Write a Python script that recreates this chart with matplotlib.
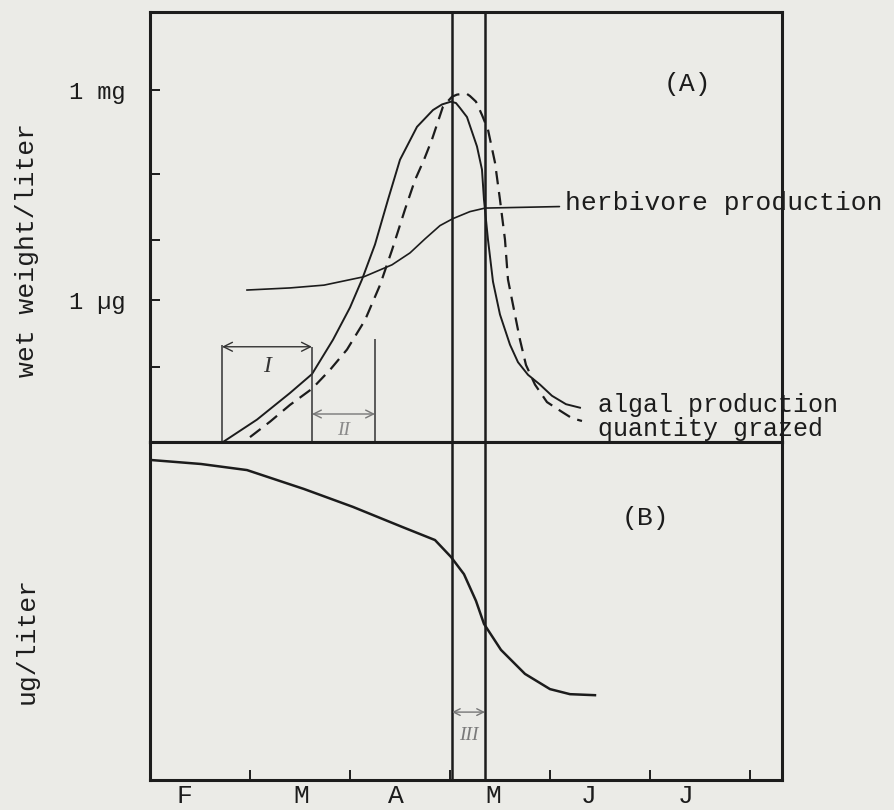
import matplotlib
matplotlib.use("Agg")
import matplotlib.pyplot as plt

# x: months counted from 1 February; top panel y: log10 wet weight (mg/liter)
algal_x = [0.73, 1.07, 1.40, 1.62, 1.83, 2.00, 2.12, 2.25, 2.38, 2.50, 2.67, 2.83, 2.92, 3.01,
           3.06, 3.10, 3.17, 3.27, 3.32, 3.34, 3.38, 3.43, 3.50, 3.60, 3.68, 3.78, 3.90, 4.02, 4.16, 4.30]
algal_y = [-5.03, -4.71, -4.33, -4.06, -3.57, -3.11, -2.71, -2.21, -1.57, -1.00, -0.53, -0.29, -0.21, -0.17,
           -0.19, -0.26, -0.39, -0.81, -1.14, -1.57, -2.14, -2.74, -3.21, -3.64, -3.89, -4.07, -4.21, -4.37, -4.49, -4.54]

grazed_x = [1.00, 1.20, 1.40, 1.62, 1.80, 1.97, 2.15, 2.30, 2.42, 2.55, 2.65, 2.74, 2.82, 2.93, 3.02, 3.07, 3.12,
            3.17, 3.20, 3.26, 3.32, 3.38, 3.45, 3.50, 3.55, 3.58, 3.63, 3.70, 3.76, 3.85, 3.97, 4.12, 4.22, 4.32]
grazed_y = [-4.96, -4.74, -4.50, -4.27, -4.00, -3.71, -3.29, -2.79, -2.29, -1.71, -1.29, -1.00, -0.71, -0.24, -0.10, -0.07, -0.06,
            -0.06, -0.09, -0.17, -0.36, -0.57, -1.04, -1.57, -2.14, -2.71, -3.07, -3.57, -3.93, -4.21, -4.46, -4.60, -4.69, -4.73]

herb_x = [0.97, 1.40, 1.74, 2.14, 2.42, 2.60, 2.75, 2.90, 3.03, 3.20, 3.35]
herb_y = [-2.86, -2.83, -2.79, -2.67, -2.50, -2.33, -2.13, -1.94, -1.84, -1.74, -1.69]

# bottom panel: nutrient, ug/liter (relative scale 0-10)
nutr_x = [0.00, 0.51, 0.97, 1.54, 2.03, 2.52, 2.85, 3.01, 3.14, 3.26, 3.34, 3.51, 3.75, 4.00, 4.20, 4.45]
nutr_y = [9.47, 9.35, 9.17, 8.61, 8.08, 7.49, 7.10, 6.60, 6.09, 5.30, 4.62, 3.85, 3.14, 2.69, 2.54, 2.51]

month_ticks = [1, 2, 3, 4, 5, 6]
month_label_pos = [0.34, 1.51, 2.46, 3.43, 4.39, 5.36]
month_labels = ["F", "M", "A", "M", "J", "J"]

weight_ticks = [0.0, -1.2, -2.14, -3.0, -3.96]
weight_labels = ["1 mg", "", "", "1 µg", ""]

bloom_window = [3.02, 3.35]   # period III
lag_one = [0.72, 1.62]        # period I
lag_two = [1.62, 2.25]        # period II

plt.rcParams["font.family"] = ["Liberation Mono", "DejaVu Sans Mono"]
ink = "#1c1c1c"
paper = "#ebebe7"

fig = plt.figure(figsize=(8.95, 8.1), dpi=100, facecolor=paper)
ax_top = fig.add_axes([0.1676, 0.4543, 0.7061, 0.5309], facecolor=paper)
ax_bot = fig.add_axes([0.1676, 0.0370, 0.7061, 0.4173], facecolor=paper)

for ax in (ax_top, ax_bot):
    ax.set_xlim(0, 6.32)
    for sp in ax.spines.values():
        sp.set_linewidth(2.2)
        sp.set_color(ink)
    for xv in bloom_window:
        ax.axvline(xv, color=ink, lw=1.8)

# ---- panel A ----
ax_top.set_ylim(-5.03, 1.11)
ax_top.plot(algal_x, algal_y, color=ink, lw=1.4, solid_joinstyle="round")
ax_top.plot(grazed_x, grazed_y, color=ink, lw=1.6, linestyle=(0, (6, 3.5)))
ax_top.plot(herb_x, herb_y, color=ink, lw=1.2, solid_joinstyle="round")

ax_top.set_xticks([])
ax_top.set_yticks(weight_ticks)
ax_top.set_yticklabels(weight_labels, fontsize=17, color=ink)
ax_top.tick_params(axis="y", direction="in", length=7, width=1.4, pad=18, color=ink)

ax_top.annotate("herbivore production", xy=(herb_x[-1], herb_y[-1]), xytext=(4.15, -1.62),
                fontsize=19, color=ink, va="center", ha="left", annotation_clip=False,
                arrowprops=dict(arrowstyle="-", color=ink, lw=1.2, shrinkA=2, shrinkB=0))
ax_top.text(4.48, -4.50, "algal production", fontsize=18, color=ink, va="center", ha="left")
ax_top.text(4.48, -4.85, "quantity grazed", fontsize=18, color=ink, va="center", ha="left")
ax_top.text(5.37, 0.08, "(A)", fontsize=19, color=ink, va="center", ha="center")

# periods I and II
y0 = ax_top.get_ylim()[0]
ax_top.vlines(lag_one, y0, [-3.64, -3.67], color="#333333", lw=1.1)
ax_top.vlines(lag_two[1], y0, -3.56, color="#333333", lw=1.1)
ax_top.annotate("", xy=(lag_one[1], -3.67), xytext=(lag_one[0], -3.67),
                arrowprops=dict(arrowstyle="<->", color="#333333", lw=1.0,
                                shrinkA=0, shrinkB=0, mutation_scale=16))
ax_top.annotate("", xy=(lag_two[1], -4.63), xytext=(lag_two[0], -4.63),
                arrowprops=dict(arrowstyle="<->", color="#777777", lw=1.0,
                                shrinkA=0, shrinkB=0, mutation_scale=14))
ax_top.text(sum(lag_one) / 2, -3.95, "I", fontsize=17, color="#333333", ha="center", va="center",
            family="Liberation Serif", style="italic")
ax_top.text(sum(lag_two) / 2, -4.86, "II", fontsize=14, color="#8a8a8a", ha="center", va="center",
            family="Liberation Serif", style="italic")

# ---- panel B ----
ax_bot.set_ylim(0, 10)
ax_bot.plot(nutr_x, nutr_y, color=ink, lw=1.8, solid_joinstyle="round")
ax_bot.set_yticks([])
ax_bot.set_xticks(month_ticks)
ax_bot.set_xticklabels([])
ax_bot.tick_params(axis="x", which="major", direction="in", length=7, width=1.4, color=ink)
ax_bot.set_xticks(month_label_pos, minor=True)
ax_bot.set_xticklabels(month_labels, minor=True, fontsize=19, color=ink)
ax_bot.tick_params(axis="x", which="minor", length=0, pad=3)
ax_bot.text(4.95, 7.75, "(B)", fontsize=19, color=ink, va="center", ha="center")

ax_bot.annotate("", xy=(bloom_window[1], 2.01), xytext=(bloom_window[0], 2.01),
                arrowprops=dict(arrowstyle="<->", color="#777777", lw=1.0,
                                shrinkA=0, shrinkB=0, mutation_scale=12))
ax_bot.text(sum(bloom_window) / 2, 1.33, "III", fontsize=14, color="#7a7a7a", ha="center", va="center",
            family="Liberation Serif", style="italic")

fig.text(27 / 895, 1 - 250 / 810, "wet weight/liter", rotation=90, fontsize=19, color=ink,
         ha="center", va="center")
fig.text(27 / 895, 1 - 640 / 810, "ug/liter", rotation=90, fontsize=19, color=ink,
         ha="center", va="center")

fig.savefig("out.png", dpi=100, facecolor=paper)
